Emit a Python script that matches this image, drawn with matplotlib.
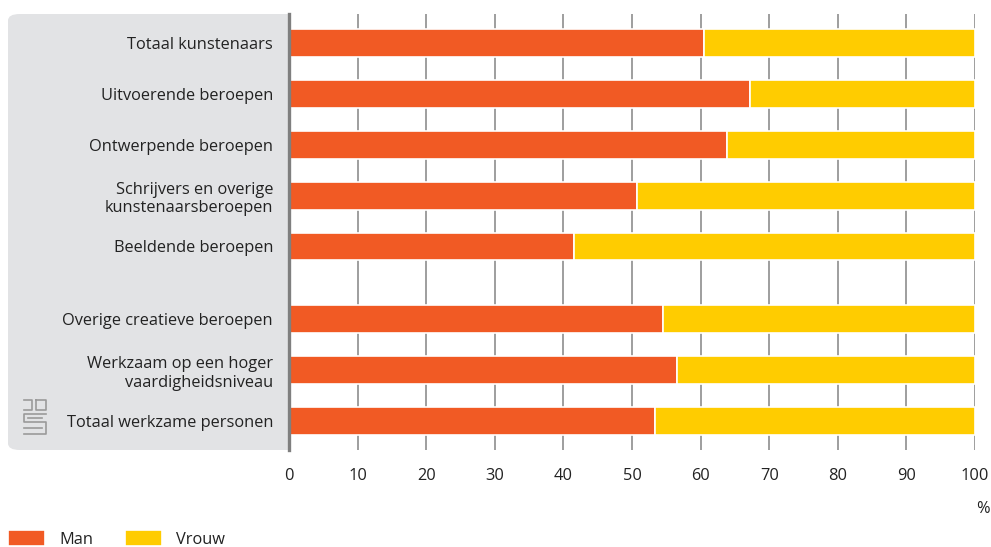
import matplotlib
matplotlib.use("Agg")
import matplotlib.pyplot as plt
import numpy as np
from matplotlib.patches import FancyBboxPatch
from matplotlib.lines import Line2D

CATEGORIES = [
    "Totaal kunstenaars",
    "Uitvoerende beroepen",
    "Ontwerpende beroepen",
    "Schrijvers en overige\nkunstenaarsberoepen",
    "Beeldende beroepen",
    "Overige creatieve beroepen",
    "Werkzaam op een hoger\nvaardigheidsniveau",
    "Totaal werkzame personen",
]
MAN = [60.5, 67.2, 63.9, 50.7, 41.5, 54.5, 56.5, 53.3]
VROUW = [100 - m for m in MAN]
X_TICKS = [0, 10, 20, 30, 40, 50, 60, 70, 80, 90, 100]

ORANGE = "#F15A24"
YELLOW = "#FFCC00"
PANEL = "#E2E3E5"
GRID = "#9E9E9E"
TEXT = "#222222"
FS = 11.8

plt.rcParams["font.family"] = ["Open Sans", "DejaVu Sans"]
plt.rcParams["font.size"] = FS

W, H = 991, 547
fig = plt.figure(figsize=(W / 100, H / 100), dpi=100)
ax = fig.add_axes([289 / W, 1 - 450 / H, (975 - 289) / W, (450 - 14) / H])

# positions: five artist groups, a small gap, then three comparison groups
y = np.array([0, 1, 2, 3, 4, 5.43, 6.43, 7.43])
h = 0.55

ax.barh(y, MAN, height=h, color=ORANGE, edgecolor="white", linewidth=1.2, zorder=3, label="Man")
ax.barh(y, VROUW, left=MAN, height=h, color=YELLOW, edgecolor="white", linewidth=1.2, zorder=3, label="Vrouw")

ax.set_xlim(0, 100)
ax.set_ylim(8.0, -0.57)
ax.set_xticks(X_TICKS)
ax.set_xticklabels([str(t) for t in X_TICKS])
ax.set_yticks(y)
ax.set_yticklabels(CATEGORIES)

ax.grid(axis="x", color=GRID, linewidth=1.4, zorder=0)
ax.grid(axis="y", visible=False)
for s in ["top", "right", "bottom"]:
    ax.spines[s].set_visible(False)
ax.spines["left"].set_color("#7F7F7F")
ax.spines["left"].set_linewidth(2.4)
ax.spines["left"].set_zorder(4)
ax.tick_params(axis="y", length=0, pad=11.5, colors=TEXT, labelsize=FS)
ax.tick_params(axis="x", length=0, pad=13, colors=TEXT, labelsize=FS)

# grey label panel with rounded left corners
panel = FancyBboxPatch(
    (8 / W, 1 - 450 / H), (300 - 8) / W, (450 - 14) / H,
    boxstyle="round,pad=0,rounding_size=0.012",
    transform=fig.transFigure, facecolor=PANEL, edgecolor="none", zorder=-1,
)
fig.patches.append(panel)

# simple cbs logo mark
lc = "#9A9A9A"
def px(xp, yp):
    return [v / W for v in xp], [1 - v / H for v in yp]
logo = [
    ([24, 32, 32, 24], [400, 400, 410, 410]),
    ([36, 46, 46, 36, 36], [400, 400, 410, 410, 400]),
    ([46, 24, 24, 46, 46, 24], [414, 414, 422, 422, 434, 434]),
    ([28, 42], [418, 418]),
    ([24, 42], [428, 428]),
]
for xp, yp in logo:
    xs, ys = px(xp, yp)
    fig.lines.append(Line2D(xs, ys, transform=fig.transFigure, color=lc, linewidth=1.2))

fig.text(983 / W, 1 - 509 / H, "%", ha="center", va="center", color=TEXT, fontsize=FS)

fig.legend(
    loc="center left", bbox_to_anchor=(8 / W, 1 - 539 / H), ncol=2, frameon=False,
    handlelength=2.25, handleheight=1.1, handletextpad=0.9, columnspacing=1.9,
    fontsize=FS, labelcolor=TEXT, borderaxespad=0, borderpad=0,
)

fig.savefig("out.png", dpi=100)
